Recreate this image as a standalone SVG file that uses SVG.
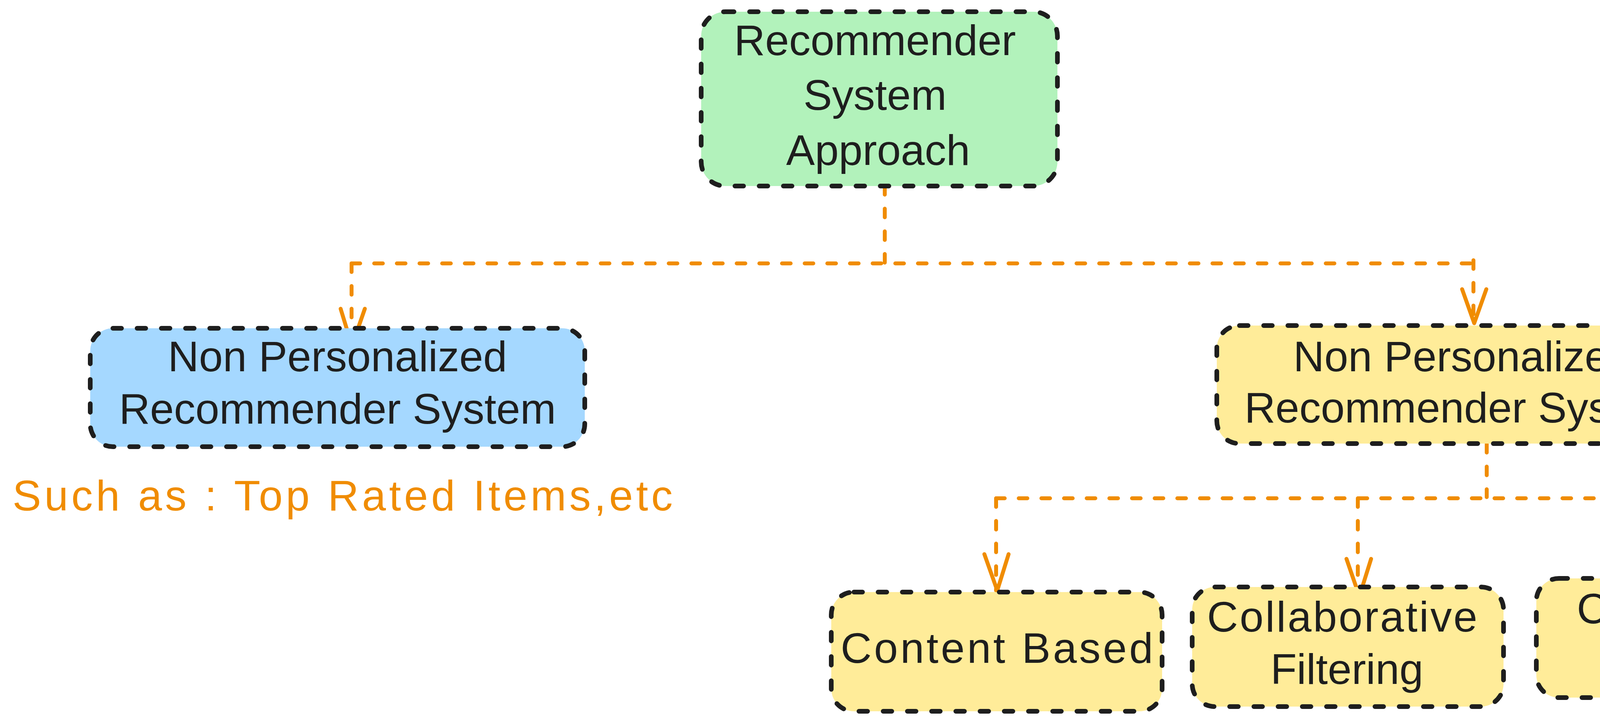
<svg xmlns="http://www.w3.org/2000/svg" width="5417" height="1850" viewBox="0 0 5417 1850">
<style>
.box{stroke:#1e1e1e;stroke-width:12;stroke-dasharray:22 40;stroke-linecap:round}
.green{fill:#b2f2bb}.blue{fill:#a5d8ff}.yellow{fill:#ffec99}
.t{font-family:"Liberation Sans","Noto Sans",sans-serif;font-size:110px;fill:#1e1e1e;text-anchor:middle}
.note{font-family:"Liberation Sans","Noto Sans",sans-serif;font-size:110px;fill:#f08c00}
.c{fill:none;stroke:#f08c00;stroke-width:10;stroke-dasharray:22 36;stroke-linecap:round}
.h{fill:none;stroke:#f08c00;stroke-width:10;stroke-linecap:round;stroke-linejoin:round}
</style>
<rect width="5417" height="1850" fill="#ffffff"/>
<g id="connectors">
<path class="c" d="M2265 476 V672"/>
<path class="c" d="M900 674 H3772"/>
<path class="c" d="M900 674 V885"/>
<polyline class="h" points="872,790 901,885 934,790"/>
<path class="c" d="M3772 666 V827"/>
<polyline class="h" points="3743,740 3774,827 3805,740"/>
<path class="c" d="M3806 1136 V1272"/>
<path class="c" d="M2550 1275 H4998"/>
<path class="c" d="M2550 1275 V1511"/>
<polyline class="h" points="2520,1418 2553,1511 2582,1418"/>
<path class="c" d="M3476 1275 V1526"/>
<polyline class="h" points="3447,1430 3480,1526 3510,1430"/>
<path class="c" d="M4236 1275 V1502"/>
<polyline class="h" points="4208,1406 4240,1502 4272,1406"/>
<path class="c" d="M4996 1275 V1500"/>
<polyline class="h" points="4966,1406 5000,1500 5030,1406"/>
</g>
<g id="node-approach">
<rect class="box green" x="1795" y="30" width="912" height="446" rx="62"/>
<text class="t" x="2240" y="141">Recommender</text>
<text class="t" x="2240" y="281">System</text>
<text class="t" x="2248" y="422">Approach</text>
</g>
<g id="node-nonpersonalized">
<rect class="box blue" x="231" y="840" width="1266" height="303" rx="58"/>
<text class="t" x="864" y="950">Non Personalized</text>
<text class="t" x="864" y="1084">Recommender System</text>
</g>
<g id="note-such-as">
<text class="note" x="32" y="1306" textLength="1690" lengthAdjust="spacing">Such as : Top Rated Items,etc</text>
</g>
<g id="node-personalized">
<rect class="box yellow" x="3115" y="833" width="1260" height="302" rx="58"/>
<text class="t" x="3745" y="950">Non Personalized</text>
<text class="t" x="3745" y="1081">Recommender System</text>
</g>
<g id="node-content">
<rect class="box yellow" x="2128" y="1515" width="847" height="305" rx="58"/>
<text class="t" x="2552" y="1696" textLength="800" lengthAdjust="spacing">Content Based</text>
</g>
<g id="node-collaborative">
<rect class="box yellow" x="3052" y="1502" width="797" height="306" rx="58"/>
<text class="t" x="3436" y="1616" textLength="692" lengthAdjust="spacing">Collaborative</text>
<text class="t" x="3448" y="1750">Filtering</text>
</g>
<g id="node-context">
<rect class="box yellow" x="3933" y="1480" width="684" height="305" rx="58"/>
<text class="t" x="4246" y="1595" textLength="419" lengthAdjust="spacing">Context</text>
<text class="t" x="4276" y="1732">Aware</text>
</g>
<g id="node-hybrid">
<rect class="box yellow" x="4695" y="1480" width="691" height="306" rx="58"/>
<text class="t" x="5040" y="1660">Hybrid</text>
</g>
</svg>
